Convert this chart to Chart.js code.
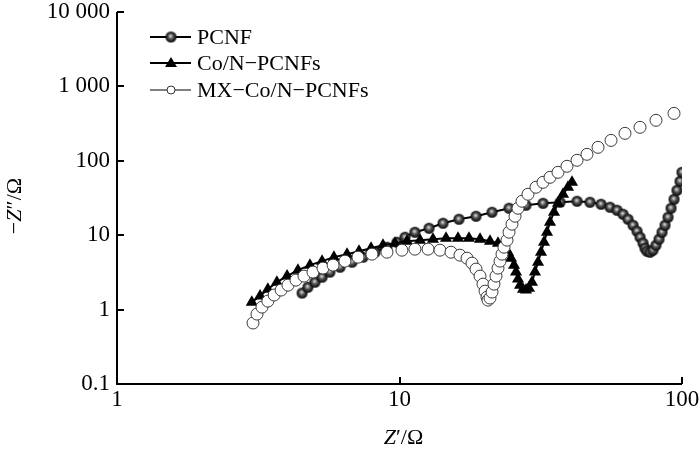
<!DOCTYPE html>
<html lang="zh">
<head>
  <meta charset="UTF-8" />
  <title>Nyquist plot</title>
  <script src="https://cdn.jsdelivr.net/npm/chart.js@4"></script>
  <style>
    * { margin: 0; padding: 0; box-sizing: border-box; }
    body { background: #fff; width: 700px; height: 456px; overflow: hidden; }
  </style>
</head>
<body>
  <canvas id="eis" width="700" height="456"></canvas>

  <script>
    // Z' (ohm) and -Z'' (ohm)
    const pcnfX = [4.52, 4.74, 5.02, 5.32, 5.67, 6.16, 6.79, 7.43, 8.19, 9.03, 9.80, 10.46, 11.34, 12.72, 14.26, 16.24, 18.66, 21.26, 24.42, 28.04, 32.21, 37.0, 42.5, 47.24, 51.69, 55.62, 58.89, 61.83, 64.41, 67.08, 69.30, 71.02, 72.78, 73.96, 75.18, 77.02, 78.93, 80.90, 82.91, 84.96, 87.07, 89.22, 91.45, 93.69, 96.0, 98.4, 100];
    const pcnfY = [1.67, 2.00, 2.34, 2.73, 3.19, 3.72, 4.34, 5.07, 5.91, 6.90, 8.05, 9.40, 10.97, 12.42, 14.50, 16.40, 17.99, 20.36, 23.03, 25.27, 26.88, 27.73, 28.60, 27.73, 26.07, 23.76, 21.66, 19.14, 16.40, 13.62, 11.32, 9.40, 7.81, 6.69, 6.10, 5.91, 6.29, 7.34, 8.84, 10.97, 13.62, 17.44, 23.03, 30.42, 40.18, 53.05, 70.07];

    const coX = [3.0, 3.21, 3.42, 3.68, 4.00, 4.37, 4.82, 5.32, 5.86, 6.52, 7.19, 7.93, 8.74, 9.64, 10.63, 11.82, 13.14, 14.61, 16.11, 17.62, 19.28, 20.91, 22.32, 23.44, 24.22, 24.82, 25.43, 25.85, 26.27, 26.71, 27.36, 28.04, 28.73, 29.44, 30.17, 30.93, 31.69, 32.47, 33.28, 34.10, 35.23, 36.40, 37.92, 39.49, 40.80];
    const coY = [1.26, 1.52, 1.88, 2.34, 2.82, 3.39, 3.96, 4.48, 5.07, 5.56, 6.10, 6.69, 7.34, 7.81, 8.31, 8.57, 8.84, 9.12, 9.12, 9.12, 8.84, 8.31, 7.81, 6.90, 5.91, 4.91, 3.96, 3.19, 2.57, 2.13, 1.88, 1.83, 1.94, 2.34, 3.19, 4.34, 5.91, 8.05, 10.97, 14.94, 20.36, 26.88, 35.5, 44.1, 51.4];

    const mxX = [3.03, 3.13, 3.26, 3.42, 3.60, 3.81, 4.03, 4.30, 4.59, 4.94, 5.36, 5.82, 6.41, 7.13, 7.99, 9.03, 10.20, 11.34, 12.62, 13.91, 15.22, 16.37, 17.34, 18.06, 18.66, 19.28, 19.75, 20.08, 20.40, 20.57, 20.91, 21.26, 21.60, 21.96, 22.32, 22.69, 23.06, 23.44, 24.02, 24.42, 25.02, 25.64, 26.27, 27.14, 28.50, 30.42, 32.21, 34.10, 36.40, 39.16, 42.50, 46.09, 50.44, 56.08, 62.84, 71.02, 80.90, 93.69];
    const mxY = [0.66, 0.87, 1.08, 1.30, 1.57, 1.83, 2.13, 2.49, 2.82, 3.19, 3.61, 3.96, 4.48, 5.07, 5.56, 5.91, 6.29, 6.49, 6.49, 6.29, 5.91, 5.39, 4.91, 4.21, 3.50, 2.82, 2.20, 1.77, 1.47, 1.34, 1.43, 1.72, 2.20, 2.82, 3.61, 4.48, 5.56, 6.90, 8.57, 10.97, 14.05, 17.99, 23.03, 28.60, 35.5, 44.1, 51.4, 60.0, 70.07, 84.4, 101.6, 122.3, 151.8, 188, 233.9, 281.7, 350, 434];

    const seriesNames = ['PCNF', 'Co/N\u2212PCNFs', 'MX\u2212Co/N\u2212PCNFs'];
    const xTicks = [1, 10, 100];
    const xTickLabels = ['1', '10', '100'];
    const yTicks = [0.1, 1, 10, 100, 1000, 10000];
    const yTickLabels = ['0.1', '1', '10', '100', '1 000', '10 000'];

    const SERIF = '"Liberation Serif", "DejaVu Serif", serif';

    // shaded black ball for the PCNF markers
    function makeBall(r) {
      const c = document.createElement('canvas');
      c.width = c.height = Math.ceil(r * 2) + 2;
      const g = c.getContext('2d');
      const cx = c.width / 2, cy = c.height / 2;
      const grad = g.createRadialGradient(cx - 0.5, cy - 1, 0.5, cx, cy, r);
      grad.addColorStop(0, '#cfcfcf');
      grad.addColorStop(0.4, '#585858');
      grad.addColorStop(1, '#000');
      g.fillStyle = grad;
      g.beginPath();
      g.arc(cx, cy, r, 0, Math.PI * 2);
      g.fill();
      return c;
    }
    const ball = makeBall(5.5);

    const pts = (xs, ys) => xs.map((x, i) => ({ x: x, y: ys[i] }));

    // axis lines, inward ticks, titles, legend
    const decor = {
      id: 'decor',
      afterDraw(chart) {
        const ctx = chart.ctx;
        const xs = chart.scales.x, ys = chart.scales.y;
        const a = chart.chartArea;
        ctx.save();
        ctx.strokeStyle = '#000';
        ctx.lineWidth = 2;
        ctx.beginPath();
        ctx.moveTo(a.left, a.top);
        ctx.lineTo(a.left, a.bottom);
        ctx.lineTo(a.right, a.bottom);
        ctx.stroke();
        ctx.beginPath();
        yTicks.forEach(v => {
          const p = Math.round(ys.getPixelForValue(v));
          ctx.moveTo(a.left, p);
          ctx.lineTo(a.left + 7, p);
        });
        xTicks.forEach(v => {
          const p = Math.round(xs.getPixelForValue(v));
          ctx.moveTo(p, a.bottom);
          ctx.lineTo(p, a.bottom - 7);
        });
        ctx.stroke();

        // axis titles, Z in italic
        ctx.fillStyle = '#000';
        ctx.textBaseline = 'alphabetic';
        const drawParts = (parts, x0, y0) => {
          let x = x0;
          parts.forEach(p => {
            ctx.font = p[1] + ' 22px ' + SERIF;
            ctx.fillText(p[0], x, y0);
            x += ctx.measureText(p[0]).width;
          });
        };
        const measure = parts => parts.reduce((w, p) => {
          ctx.font = p[1] + ' 22px ' + SERIF;
          return w + ctx.measureText(p[0]).width;
        }, 0);
        const xt = [['Z', 'italic'], ['\u2032/\u03A9', 'normal']];
        const cx = (a.left + a.right) / 2 + 4;
        drawParts(xt, cx - measure(xt) / 2, 444);

        const yt = [['\u2212', 'normal'], ['Z', 'italic'], ['\u2033/\u03A9', 'normal']];
        ctx.translate(21, 206);
        ctx.rotate(-Math.PI / 2);
        drawParts(yt, -measure(yt) / 2, 0);
        ctx.restore();

        // legend
        ctx.save();
        const rows = [37, 63, 90];
        chart.data.datasets.forEach((ds, i) => {
          const y = rows[i];
          ctx.strokeStyle = '#000';
          ctx.lineWidth = i === 2 ? 1 : 2;
          ctx.beginPath();
          ctx.moveTo(150, y);
          ctx.lineTo(191, y);
          ctx.stroke();
          const mx = 171;
          if (i === 0) {
            ctx.drawImage(ball, mx - ball.width / 2, y - ball.height / 2);
          } else if (i === 1) {
            ctx.fillStyle = '#000';
            ctx.beginPath();
            ctx.moveTo(mx, y - 6);
            ctx.lineTo(mx + 6, y + 4);
            ctx.lineTo(mx - 6, y + 4);
            ctx.closePath();
            ctx.fill();
          } else {
            ctx.fillStyle = '#fff';
            ctx.strokeStyle = '#333';
            ctx.lineWidth = 1;
            ctx.beginPath();
            ctx.arc(mx, y, 4, 0, Math.PI * 2);
            ctx.fill();
            ctx.stroke();
          }
          ctx.fillStyle = '#000';
          ctx.font = '22px ' + SERIF;
          ctx.textBaseline = 'middle';
          ctx.fillText(ds.label, 197, y + 1);
        });
        ctx.restore();
      }
    };

    new Chart(document.getElementById('eis'), {
      type: 'scatter',
      data: {
        datasets: [
          {
            label: seriesNames[0],
            data: pts(pcnfX, pcnfY),
            showLine: true,
            borderColor: '#000',
            borderWidth: 2,
            pointStyle: ball,
            order: 2
          },
          {
            label: seriesNames[1],
            data: pts(coX, coY),
            showLine: true,
            borderColor: '#000',
            borderWidth: 2,
            pointStyle: 'triangle',
            pointRadius: 7,
            pointBackgroundColor: '#000',
            pointBorderColor: '#000',
            pointBorderWidth: 0,
            order: 1
          },
          {
            label: seriesNames[2],
            data: pts(mxX, mxY),
            showLine: false,
            pointStyle: 'circle',
            pointRadius: 6,
            pointBackgroundColor: '#fff',
            pointBorderColor: '#3a3a3a',
            pointBorderWidth: 1,
            order: 0
          }
        ]
      },
      options: {
        responsive: false,
        animation: false,
        devicePixelRatio: 1,
        layout: { padding: { left: 0, right: 18, top: 12, bottom: 0 } },
        plugins: { legend: { display: false }, tooltip: { enabled: false } },
        scales: {
          x: {
            type: 'logarithmic',
            min: 1,
            max: 100,
            afterBuildTicks: s => { s.ticks = xTicks.map(v => ({ value: v })); },
            afterFit: s => { s.height = 72; s.paddingLeft = 0; s.paddingRight = 0; },
            grid: { display: false, drawTicks: false },
            border: { display: false },
            ticks: {
              color: '#000',
              font: { family: SERIF, size: 23 },
              padding: 2,
              maxRotation: 0,
              autoSkip: false,
              callback: (v) => xTickLabels[xTicks.indexOf(v)]
            }
          },
          y: {
            type: 'logarithmic',
            min: 0.1,
            max: 10000,
            afterBuildTicks: s => { s.ticks = yTicks.map(v => ({ value: v })); },
            afterFit: s => { s.width = 117; s.paddingTop = 0; s.paddingBottom = 0; },
            grid: { display: false, drawTicks: false },
            border: { display: false },
            ticks: {
              color: '#000',
              font: { family: SERIF, size: 23 },
              padding: 7,
              autoSkip: false,
              callback: (v) => yTickLabels[yTicks.indexOf(v)]
            }
          }
        }
      },
      plugins: [decor]
    });
  </script>
</body>
</html>
